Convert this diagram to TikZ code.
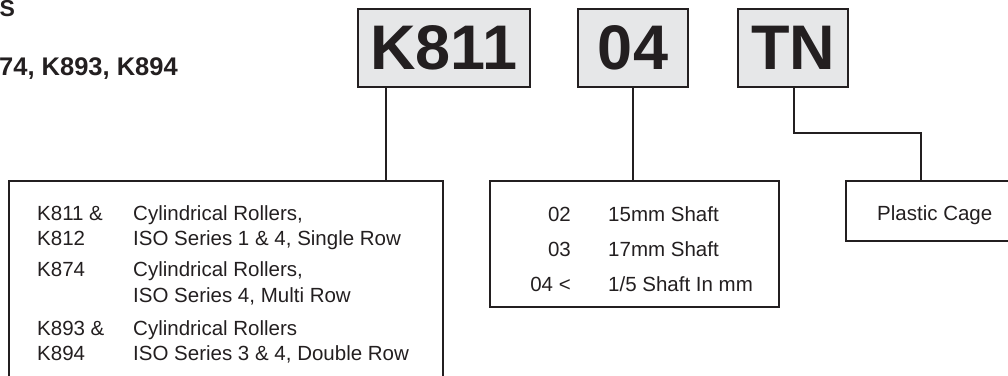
\documentclass[tikz,border=0pt]{standalone}
\usepackage{fontspec}
\setmainfont{Liberation Sans}
\definecolor{ink}{HTML}{231F20}
\definecolor{boxgray}{HTML}{E6E7E8}
\begin{document}
\begin{tikzpicture}[x=1pt,y=-1pt,
  codebox/.style={draw=ink,line width=1.8pt,fill=boxgray,rectangle,inner sep=0pt,
    font=\fontsize{63}{63}\selectfont\bfseries,text=ink},
  infobox/.style={draw=ink,line width=1.8pt,rectangle,inner sep=0pt},
  txt/.style={anchor=base west,inner sep=0pt,font=\fontsize{20.5}{24}\selectfont,text=ink},
  txtr/.style={anchor=base east,inner sep=0pt,font=\fontsize{20.5}{24}\selectfont,text=ink},
  ttl/.style={anchor=base west,inner sep=0pt,font=\fontsize{25.5}{28}\selectfont\bfseries,text=ink},
  conn/.style={draw=ink,line width=1.8pt}]
\useasboundingbox (0,0) rectangle (1008,375);
\clip (0,0) rectangle (1008,375);
% title fragments
\node[ttl,font=\fontsize{23}{26}\selectfont\bfseries] (title1) at (-0.5,16.5) {S};
\node[ttl] (title2) at (-1,75) {74, K893, K894};
% top code boxes
\node[codebox,minimum width=172pt,minimum height=78pt] (k811) at (444,48) {K811};
\node[codebox,minimum width=110pt,minimum height=78pt] (c04) at (633,48) {04};
\node[codebox,minimum width=110pt,minimum height=78pt] (tn) at (793,48) {TN};
% info boxes
\node[infobox,minimum width=434pt,minimum height=230pt] (left) at (226,296) {};
\node[infobox,minimum width=289pt,minimum height=126pt] (mid) at (634.5,244) {};
\node[infobox,minimum width=180pt,minimum height=60pt] (cage) at (936,211) {};
% connector coordinates
\coordinate (c1) at (386,0);
\coordinate (c2) at (633,0);
\coordinate (c3) at (794,0);
\coordinate (bend) at (921,133);
\draw[conn] (k811.south -| c1) -- (c1 |- left.north);
\draw[conn] (c04.south -| c2) -- (c2 |- mid.north);
\draw[conn] (tn.south -| c3) -- (c3 |- bend) -- (bend) -- (bend |- cage.north);
% left box text
\node[txt] (l1a) at (37,220) {K811 \&};
\node[txt] (l1b) at (133,220) {Cylindrical Rollers,};
\node[txt] (l2a) at (37,245) {K812};
\node[txt] (l2b) at (133,245) {ISO Series 1 \& 4, Single Row};
\node[txt] (l3a) at (37,276) {K874};
\node[txt] (l3b) at (133,276) {Cylindrical Rollers,};
\node[txt] (l4b) at (133,302) {ISO Series 4, Multi Row};
\node[txt] (l5a) at (37,335) {K893 \&};
\node[txt] (l5b) at (133,335) {Cylindrical Rollers};
\node[txt] (l6a) at (37,360) {K894};
\node[txt] (l6b) at (133,360) {ISO Series 3 \& 4, Double Row};
% middle box text
\node[txtr] (m1a) at (571,221) {02};
\node[txt] (m1b) at (608,221) {15mm Shaft};
\node[txtr] (m2a) at (571,256) {03};
\node[txt] (m2b) at (608,256) {17mm Shaft};
\node[txtr] (m3a) at (571,291) {04 <};
\node[txt] (m3b) at (608,291) {1/5 Shaft In mm};
% cage text
\node[txt] (p1) at (877,220) {Plastic Cage};
\end{tikzpicture}
\end{document}
